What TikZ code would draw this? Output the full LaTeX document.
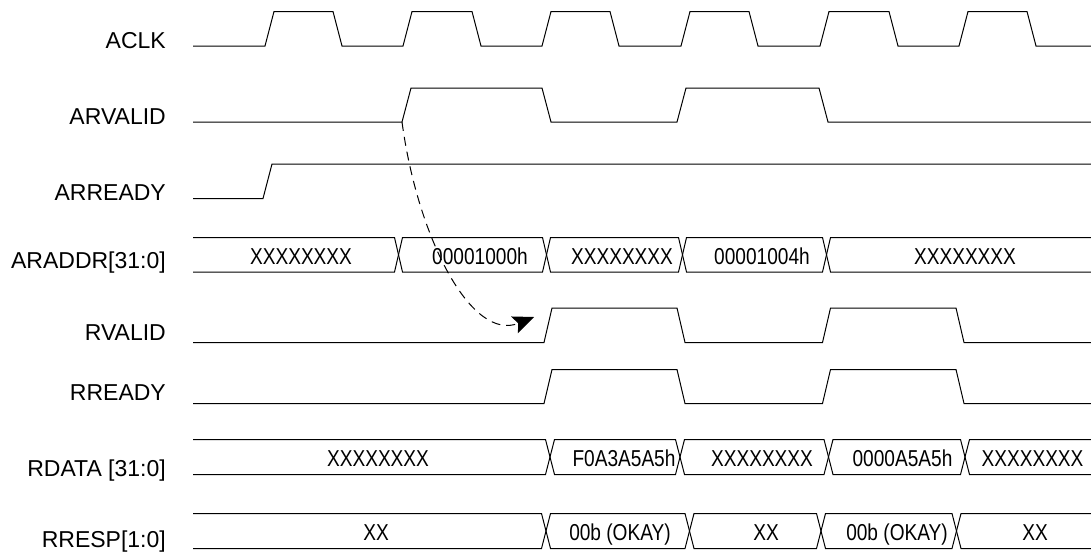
\documentclass[tikz,border=0pt]{standalone}
\usepackage{fontspec}
\setmainfont{Liberation Sans}
\newfontfamily\busfont[FakeStretch=0.83]{Liberation Sans}
\usepackage{tikz}
\usetikzlibrary{arrows.meta}

\begin{document}
\begin{tikzpicture}[
                x=1pt, y=-1pt,
                sig/.style={anchor=base east, inner sep=0pt, font=\fontsize{23}{27}\selectfont},
                val/.style={anchor=base, inner sep=0pt, font=\busfont\fontsize{23}{27}\selectfont},
                wave/.style={line width=1pt, line join=miter},
                cause/.style={line width=1pt, dash pattern=on 9pt off 6pt, -{Stealth[length=21pt, width=18pt, inset=4pt]}}
            ]
            \useasboundingbox (0,0) rectangle (1091,557);

            % signal names
            \node[sig] (aclk) at (166,48) {ACLK};
            \node[sig] (arvalid) at (166,124) {ARVALID};
            \node[sig] (arready) at (166,200) {ARREADY};
            \node[sig] (araddr) at (166,268) {ARADDR[31:0]};
            \node[sig] (rvalid) at (166,340) {RVALID};
            \node[sig] (rready) at (166,400) {RREADY};
            \node[sig] (rdata) at (166,476) {RDATA [31:0]};
            \node[sig] (rresp) at (166,547) {RRESP[1:0]};

            % single bit lines
            \draw[wave] (193,46) -- (265,46) -- (274,11.5) -- (333,11.5) -- (342,46) -- (403,46) -- (412,11.5) -- (472,11.5) -- (481,46)
                -- (542,46) -- (551,11.5) -- (610,11.5) -- (619,46) -- (681,46) -- (690,11.5) -- (749,11.5) -- (758,46)
                -- (820,46) -- (829,11.5) -- (889,11.5) -- (898,46) -- (959,46) -- (968,11.5) -- (1027,11.5) -- (1036,46) -- (1091,46);
            \draw[wave] (193,122) -- (402,122) -- (411,88) -- (542,88) -- (551,122) -- (677,122) -- (686,88) -- (819,88) -- (828,122) -- (1091,122);
            \draw[wave] (193,198.5) -- (263,198.5) -- (272,164) -- (1091,164);
            \draw[wave] (193,342.5) -- (544,342.5) -- (552,308) -- (677,308) -- (685,342.5) -- (822.5,342.5) -- (830.5,308) -- (956,308) -- (964,342.5) -- (1091,342.5);
            \draw[wave] (193,403.5) -- (544,403.5) -- (552,369.5) -- (677,369.5) -- (685,403.5) -- (822.5,403.5) -- (830.5,369.5) -- (956,369.5) -- (964,403.5) -- (1091,403.5);

            % ARADDR bus
            \draw[wave] (193,237.5) -- (394.5,237.5) -- (402.5,272) -- (542.5,272) -- (550.5,237.5) -- (678.5,237.5) -- (686.5,272) -- (822.5,272) -- (830.5,237.5) -- (1091,237.5);
            \draw[wave] (193,272) -- (394.5,272) -- (402.5,237.5) -- (542.5,237.5) -- (550.5,272) -- (678.5,272) -- (686.5,237.5) -- (822.5,237.5) -- (830.5,272) -- (1091,272);
            \node[val] (ad1) at (301,264) {XXXXXXXX};
            \node[val] (ad2) at (480,264) {00001000h};
            \node[val] (ad3) at (622,264) {XXXXXXXX};
            \node[val] (ad4) at (762,264) {00001004h};
            \node[val] (ad5) at (965,264) {XXXXXXXX};

            % RDATA bus
            \draw[wave] (193,439.5) -- (545.5,439.5) -- (554.5,474.5) -- (675.5,474.5) -- (684.5,439.5) -- (824,439.5) -- (833,474.5) -- (960.5,474.5) -- (969.5,439.5) -- (1091,439.5);
            \draw[wave] (193,474.5) -- (545.5,474.5) -- (554.5,439.5) -- (675.5,439.5) -- (684.5,474.5) -- (824,474.5) -- (833,439.5) -- (960.5,439.5) -- (969.5,474.5) -- (1091,474.5);
            \node[val] (rd1) at (378,466) {XXXXXXXX};
            \node[val] (rd2) at (624,466) {F0A3A5A5h};
            \node[val] (rd3) at (762,466) {XXXXXXXX};
            \node[val] (rd4) at (902.5,466) {0000A5A5h};
            \node[val] (rd5) at (1032.5,466) {XXXXXXXX};

            % RRESP bus
            \draw[wave] (193,513.5) -- (541.5,513.5) -- (550.5,548.5) -- (685,548.5) -- (694,513.5) -- (816.5,513.5) -- (825.5,548.5) -- (952,548.5) -- (961,513.5) -- (1091,513.5);
            \draw[wave] (193,548.5) -- (541.5,548.5) -- (550.5,513.5) -- (685,513.5) -- (694,548.5) -- (816.5,548.5) -- (825.5,513.5) -- (952,513.5) -- (961,548.5) -- (1091,548.5);
            \node[val] (rs1) at (376,540) {XX};
            \node[val] (rs2) at (620,540) {00b (OKAY)};
            \node[val] (rs3) at (766,540) {XX};
            \node[val] (rs4) at (897,540) {00b (OKAY)};
            \node[val] (rs5) at (1035,540) {XX};

            % ARVALID -> RVALID
            \coordinate (arvrise) at (402,122);
            \coordinate (rvtip) at (534,317);
            \draw[cause] (arvrise) .. controls (418,240) and (472,342) .. (rvtip);
            \end{tikzpicture}
\end{document}
